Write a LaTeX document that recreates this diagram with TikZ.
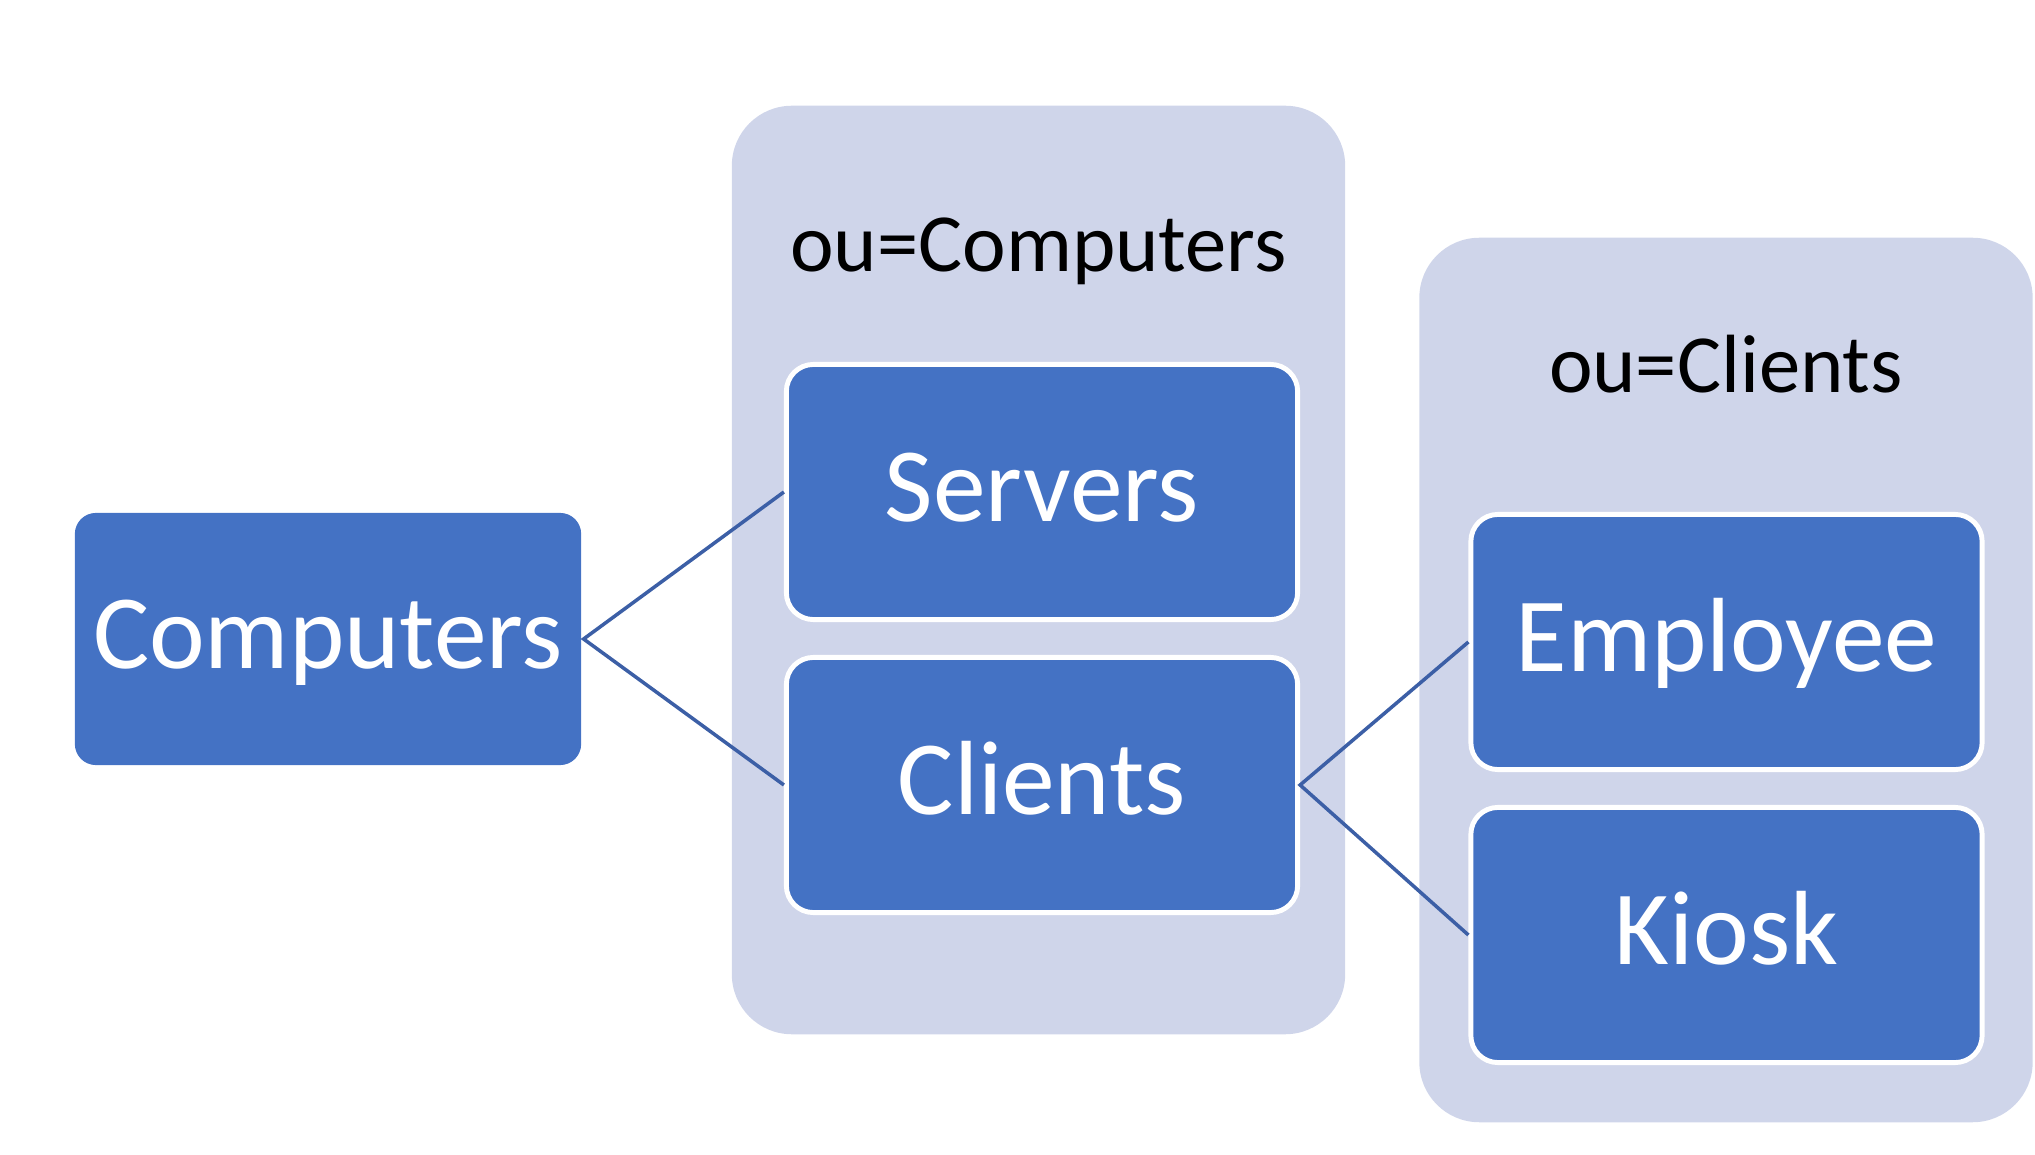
\documentclass[tikz,border=0pt]{standalone}
\usepackage{fontspec}
\setmainfont{Carlito}
\usetikzlibrary{calc}

\definecolor{ouback}{HTML}{CFD5EA}
\definecolor{oublue}{HTML}{4472C4}
\definecolor{oulink}{HTML}{3C5FA6}

\begin{document}
\begin{tikzpicture}[x=0.01cm, y=-0.01cm,
	oupanel/.style={fill=ouback, rounded corners=0.6cm, minimum width=6.13cm, inner sep=0pt},
	oubox/.style={fill=oublue, draw=white, line width=1.4pt, rounded corners=0.27cm,
		minimum width=5.11cm, minimum height=2.55cm, inner sep=0pt, text=white,
		font=\fontsize{30}{36}\selectfont, text height=22pt, text depth=5pt},
	oulabel/.style={anchor=base, inner sep=0pt, font=\fontsize{23.5}{28}\selectfont},
	oulink/.style={draw=oulink, line width=1pt}]
	\useasboundingbox (0,0) rectangle (2035,1155);

	% the two OU containers
	\node[oupanel, minimum height=9.28cm] (pcomp) at (1038.5,570) {};
	\node[oupanel, minimum height=8.84cm] (pcli) at (1726,680) {};
	\node[oulabel] (lcomp) at (1038.5,271.5) {ou=Computers};
	\node[oulabel] (lcli) at (1726,393) {ou=Clients};

	% the units
	\node[oubox, draw=none, minimum width=5.06cm, minimum height=2.52cm, rounded corners=0.21cm] (comp) at (328,639) {Computers};
	\node[oubox] (srv) at (1042,492) {Servers};
	\node[oubox] (cli) at (1042,785) {Clients};
	\node[oubox] (emp) at (1726.5,642) {Employee};
	\node[oubox] (kio) at (1726.5,935) {Kiosk};

	\draw[oulink] (srv.west)--(comp.east)--(cli.west);
	\draw[oulink] (emp.west)--(cli.east)--(kio.west);
\end{tikzpicture}
\end{document}
